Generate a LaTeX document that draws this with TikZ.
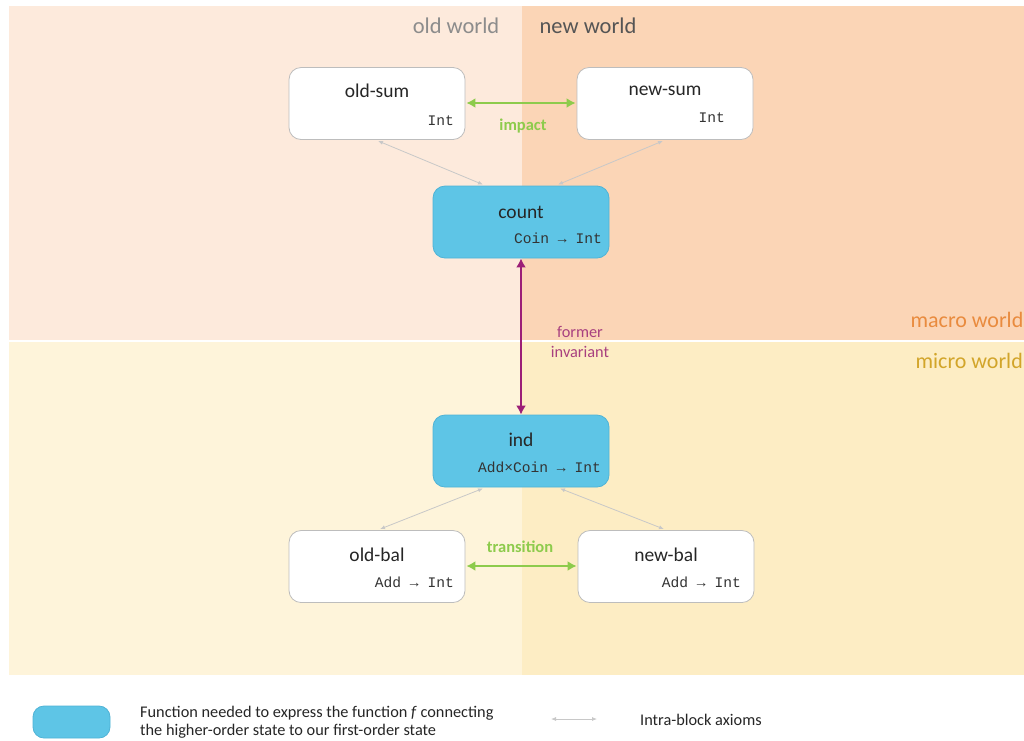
\documentclass[tikz,border=0pt]{standalone}
\usepackage{fontspec}
\setmainfont{Carlito}
\setmonofont{Liberation Mono}
\usetikzlibrary{arrows.meta,calc}

\definecolor{bgOldMacro}{HTML}{FDEADC}
\definecolor{bgNewMacro}{HTML}{FBD5B6}
\definecolor{bgOldMicro}{HTML}{FEF4DA}
\definecolor{bgNewMicro}{HTML}{FDEDC4}
\definecolor{fnblue}{HTML}{5EC5E6}
\definecolor{fnbluedark}{HTML}{4FB3D6}
\definecolor{boxgray}{HTML}{BDBDBD}
\definecolor{linkgreen}{HTML}{8DCB4C}
\definecolor{invpurple}{HTML}{9C1F77}
\definecolor{invtext}{HTML}{A8407F}
\definecolor{axgray}{HTML}{C8C8C8}
\definecolor{oldgray}{HTML}{8C8C8C}
\definecolor{newgray}{HTML}{555555}
\definecolor{macroorange}{HTML}{E98B3E}
\definecolor{microyellow}{HTML}{D2A52A}

\tikzset{
  statebox/.style={draw=boxgray, line width=0.8pt, fill=white, rounded corners=12pt,
    minimum width=176pt, minimum height=72pt, inner sep=0pt},
  fnbox/.style={statebox, draw=fnbluedark, fill=fnblue},
  boxtitle/.style={inner sep=0pt, font=\fontsize{19.5}{23}\selectfont, text=black!85},
  boxtype/.style={inner sep=0pt, anchor=east, font=\ttfamily\fontsize{14.6}{17}\selectfont, text=black!80},
  worldlbl/.style={inner sep=0pt, font=\fontsize{22.5}{27}\selectfont},
  linklbl/.style={inner sep=0pt, font=\bfseries\fontsize{16.5}{19}\selectfont, text=linkgreen},
  greenlink/.style={draw=linkgreen, line width=2.6pt, {Latex[length=9pt,width=10pt]}-{Latex[length=9pt,width=10pt]}, shorten <=1pt, shorten >=1pt},
  invlink/.style={draw=invpurple, line width=2.4pt, {Latex[length=9pt,width=10pt]}-{Latex[length=9pt,width=10pt]}},
  axlink/.style={draw=axgray, line width=0.8pt, {Latex[length=5pt,width=4pt]}-{Latex[length=5pt,width=4pt]}},
  legendtxt/.style={inner sep=0pt, anchor=west, font=\fontsize{16.3}{18.5}\selectfont, text=black!85, align=left}
}

\begin{document}
\begin{tikzpicture}[x=1pt,y=-1pt]
\useasboundingbox (0,0) rectangle (1024,740);
\fill[white] (0,0) rectangle (1024,740);

% four world regions
\fill[bgOldMacro] (9,6) rectangle (522,340);
\fill[bgNewMacro] (522,6) rectangle (1024,340);
\fill[bgOldMicro] (9,342) rectangle (522,675);
\fill[bgNewMicro] (522,342) rectangle (1024,675);

% region captions
\node[worldlbl, text=oldgray] (oldw) at (456,26) {old world};
\node[worldlbl, text=newgray] (neww) at (588,26) {new world};
\node[inner sep=0pt, anchor=east, font=\fontsize{22}{26}\selectfont, text=macroorange] (macro) at (1023.5,320) {macro world};
\node[inner sep=0pt, anchor=east, font=\fontsize{22}{26}\selectfont, text=microyellow] (micro) at (1023,361) {micro world};

% state boxes
\node[statebox] (oldsum) at (377,103.5) {};
\node[statebox] (newsum) at (665,103.5) {};
\node[fnbox]    (count)  at (521,222) {};
\node[fnbox]    (ind)    at (521,451) {};
\node[statebox] (oldbal) at (377,566.5) {};
\node[statebox] (newbal) at (666,566.5) {};

% box contents
\node[boxtitle] (oldsumT) at (377,91) {old-sum};
\node[boxtype]  (oldsumY) at (454,121) {Int};
\node[boxtitle] (newsumT) at (665,91) {new-sum};
\node[boxtype]  (newsumY) at (725,118) {Int};
\node[boxtitle] (countT) at (521,212) {count};
\node[boxtype]  (countY) at (602,238) {Coin → Int};
\node[boxtitle] (indT) at (521,440) {ind};
\node[boxtype]  (indY) at (601,467) {Add×Coin → Int};
\node[boxtitle] (oldbalT) at (377,555) {old-bal};
\node[boxtype]  (oldbalY) at (454,582) {Add → Int};
\node[boxtitle] (newbalT) at (666,555) {new-bal};
\node[boxtype]  (newbalY) at (741,582) {Add → Int};

% green links between old and new
\draw[greenlink] (oldsum.east |- 0,103) -- (newsum.west |- 0,103);
\node[linklbl] (impact) at (523,126) {impact};
\draw[greenlink] (oldbal.east |- 0,566) -- (newbal.west |- 0,566);
\node[linklbl] (trans) at (520,547) {transition};

% former invariant
\draw[invlink] (count.south) -- (ind.north);
\node[inner sep=0pt, align=center, font=\fontsize{16.3}{19.5}\selectfont, text=invtext] (former) at (580,342) {former\\invariant};

% intra-block axioms
\draw[axlink] ($(oldsum.south)+(1,1)$) -- ($(count.north)+(-38,-1)$);
\draw[axlink] ($(newsum.south)+(-2,1)$) -- ($(count.north)+(37,-1)$);
\draw[axlink] ($(ind.south)+(-38,1)$) -- ($(oldbal.north)+(3,-1)$);
\draw[axlink] ($(ind.south)+(39,1)$) -- ($(newbal.north)+(-2,-1)$);

% legend
\node[fnbox, minimum width=77pt, minimum height=32pt, rounded corners=11pt] (legfn) at (71.5,722) {};
\node[legendtxt] (legfntxt) at (140,722) {Function needed to express the function \textit{f} connecting\\the higher-order state to our first-order state};
\coordinate (legA) at (551,719);
\coordinate (legB) at (597,719);
\draw[axlink] (legA) -- (legB);
\node[legendtxt] (legax) at (640,720) {Intra-block axioms};
\end{tikzpicture}
\end{document}
